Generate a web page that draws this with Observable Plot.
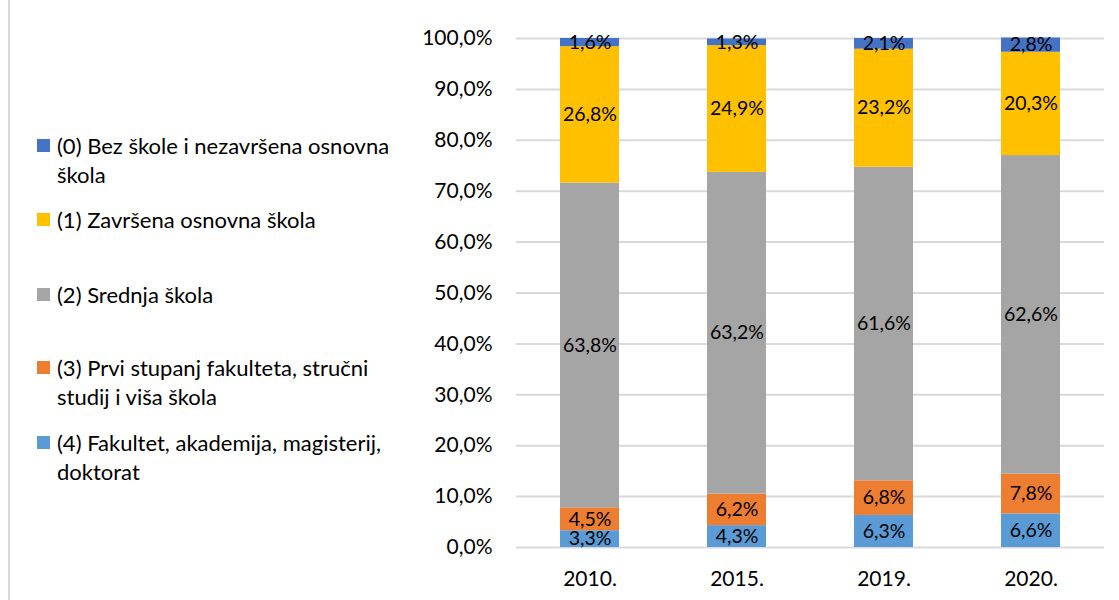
<!DOCTYPE html>
<html><head><meta charset="utf-8">
<script src="https://cdn.jsdelivr.net/npm/d3@7"></script>
<script src="https://cdn.jsdelivr.net/npm/@observablehq/plot@0.6"></script>
<style>
body{margin:0;background:#fff;font-family:Lato,"Open Sans",sans-serif;}
#wrap{position:relative;width:1119px;height:600px;}
#border{position:absolute;left:8px;top:0;width:0;height:600px;border-left:2px solid #D9D9D9;}
.leg{position:absolute;left:37px;font-size:22px;line-height:29px;color:#000;white-space:nowrap;}
.leg .sw{position:absolute;left:0;top:8px;width:13px;height:13px;}
.leg .tx{margin-left:20px;display:block;}
</style></head><body>
<div id="wrap"><div id="border"></div></div>
<script>
const years = ["2010.", "2015.", "2019.", "2020."];
const categories = [
  "(4) Fakultet, akademija, magisterij, doktorat",
  "(3) Prvi stupanj fakulteta, stručni studij i viša škola",
  "(2) Srednja škola",
  "(1) Završena osnovna škola",
  "(0) Bez škole i nezavršena osnovna škola"
];
const legendLines = [
  ["(4) Fakultet, akademija, magisterij,", "doktorat"],
  ["(3) Prvi stupanj fakulteta, stručni", "studij i viša škola"],
  ["(2) Srednja škola"],
  ["(1) Završena osnovna škola"],
  ["(0) Bez škole i nezavršena osnovna", "škola"]
];
const colors = ["#5B9BD5", "#ED7D31", "#A5A5A5", "#FFC000", "#4472C4"];
const v4 = [3.3, 4.3, 6.3, 6.6];
const v3 = [4.5, 6.2, 6.8, 7.8];
const v2 = [63.8, 63.2, 61.6, 62.6];
const v1 = [26.8, 24.9, 23.2, 20.3];
const v0 = [1.6, 1.3, 2.1, 2.8];
const yTicks = [0,10,20,30,40,50,60,70,80,90,100];

const series = [v4, v3, v2, v1, v0];
const data = [];
years.forEach((yr, i) => series.forEach((s, k) => data.push({year: yr, cat: categories[k], value: s[i]})));

const fmt = v => v.toFixed(1).replace(".", ",") + "%";

const chart = Plot.plot({
  width: 1119, height: 600,
  marginLeft: 516, marginRight: 15, marginTop: 38, marginBottom: 53,
  style: {fontFamily: "Lato, 'Open Sans', sans-serif", fontSize: "21px", background: "transparent", color: "#000"},
  x: {domain: years, paddingInner: 0.6, paddingOuter: 0.3, label: null, tickSize: 0, tickPadding: 24},
  y: {domain: [0, 100], ticks: yTicks, tickFormat: d => fmt(d), label: null, tickSize: 0, tickPadding: 24},
  color: {domain: categories, range: colors},
  marks: [
    Plot.ruleY(yTicks, {stroke: "#D9D9D9", strokeWidth: 2}),
    Plot.barY(data, {x: "year", y: "value", fill: "cat", z: "cat", order: categories}),
    Plot.text(data, Plot.stackY({x: "year", y: "value", z: "cat", order: categories, text: d => fmt(d.value), fill: "#000", fontSize: 19.5}))
  ]
});
const wrap = document.getElementById("wrap");
chart.style.position = "absolute"; chart.style.left = "0"; chart.style.top = "0";
wrap.appendChild(chart);

const legTops = [131, 205, 280, 353, 428];
[4,3,2,1,0].forEach((k, j) => {
  const d = document.createElement("div");
  d.className = "leg";
  d.style.top = legTops[j] + "px";
  d.innerHTML = `<span class="sw" style="background:${colors[k]}"></span><span class="tx"></span>`;
  const tx = d.querySelector(".tx");
  legendLines[k].forEach((ln, i) => { if (i) tx.appendChild(document.createElement("br")); tx.appendChild(document.createTextNode(ln)); });
  wrap.appendChild(d);
});
</script>
</body></html>
